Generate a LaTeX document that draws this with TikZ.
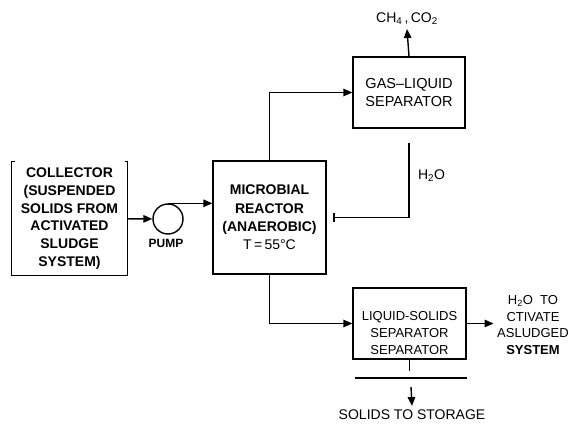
\documentclass[tikz,border=0pt]{standalone}
\usepackage{fontspec}
\setmainfont{Liberation Sans}
\usetikzlibrary{arrows.meta}

\begin{document}
\begin{tikzpicture}[x=1pt, y=-1pt, line width=1.4pt,
  unit/.style={draw, inner sep=2pt, align=center},
  flow/.style={-{Triangle[length=9pt, width=7.5pt]}},
  endbar/.style={-{Bar[width=9pt, line width=2.4pt]}}]
\useasboundingbox (0,0) rectangle (574,425);

% feed and pump
\node[inner sep=0pt, minimum width=115pt, minimum height=113pt, align=center,
  font=\fontsize{14}{17.8}\selectfont\bfseries] (coll) at (69.5,218.5)
  {COLLECTOR\\(SUSPENDED\\SOLIDS FROM\\ACTIVATED\\SLUDGE\\SYSTEM)};
\draw (coll.north west) -- (coll.south west) -- (coll.south east) -- (coll.north east);
\draw (coll.north west) -- ++(4,0);
\draw (coll.north east) -- ++(-3,0);
\node[draw, circle, minimum size=30pt, inner sep=0pt] (pump) at (168,219) {};
\node[font=\fontsize{12}{14}\selectfont\bfseries] (pumplbl) at (166,243) {PUMP};

% reactor
\node[unit, minimum width=113pt, minimum height=113pt,
  font=\fontsize{14}{18.3}\selectfont] (react) at (269.5,217.5)
  {\textbf{MICROBIAL}\\\textbf{REACTOR}\\\textbf{(ANAEROBIC)}\\T\,=\,55°C};

% separators
\node[unit, minimum width=112pt, minimum height=71pt,
  font=\fontsize{14.5}{18}\selectfont] (gas) at (409,92.5) {GAS--LIQUID\\SEPARATOR};
\node[font=\fontsize{14}{16}\selectfont] (gasout) at (407,19) {CH\textsubscript{4}\,,\,CO\textsubscript{2}};
\node[unit, minimum width=113pt, minimum height=71pt] (lss) at (409.5,323.5) {};
\node[align=center, font=\fontsize{13}{17}\selectfont] (lsstxt) at (409.5,333)
  {LIQUID-SOLIDS\\SEPARATOR\\SEPARATOR};
\node[align=center, inner sep=3pt, font=\fontsize{13}{16.7}\selectfont] (lssout) at (533,325)
  {H\textsubscript{2}O\ \ TO\\CTIVATE\\ASLUDGED\\\textbf{SYSTEM}};
\node[font=\fontsize{14}{16}\selectfont] (solids) at (412,415) {SOLIDS TO STORAGE};
\node[anchor=west, font=\fontsize{14}{16}\selectfont] (h2o) at (414,176) {H\textsubscript{2}O};

\coordinate (h2otop) at (409,143);
\coordinate (h2oend) at (333,217.5);
\coordinate (sepl) at (355,378);
\coordinate (sepr) at (467,378);
\coordinate (solstart) at (411,387);

% flows
\draw[flow] (coll) -- (pump);
\draw[flow] (pump.north) -- (pump.north -| react.west);
\draw[flow] (react.north) |- (gas.west);
\draw[flow] (gas.north) -- (gasout.south);
\draw[endbar] (h2otop) |- (h2oend);
\draw[flow] (react.south) |- (lss.west);
\draw[flow] (lss.east) -- (lss.east -| lssout.west);
\draw (lss.south) -- ++(0,11);
\draw (sepl) -- (sepr);
\draw[flow] (solstart) -- (solids.north);
\end{tikzpicture}
\end{document}
